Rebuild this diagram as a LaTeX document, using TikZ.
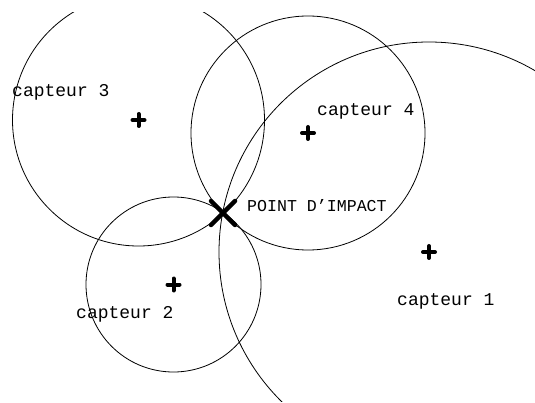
\documentclass[tikz,border=0pt]{standalone}
\usepackage{fontspec}
\setmainfont{Liberation Mono}
\begin{document}
\begin{tikzpicture}[x=1pt,y=-1pt,
  ring/.style={draw=black,line width=0.8pt},
  plusmark/.style={draw=black,line width=4pt,line cap=round},
  impactmark/.style={draw=black,line width=4.5pt,line cap=round},
  lbl/.style={anchor=base west,inner sep=0pt,font=\fontsize{18}{18}\selectfont},
  implbl/.style={anchor=base west,inner sep=0pt,font=\fontsize{16.6}{17}\selectfont}]
\useasboundingbox (0,0) rectangle (535,403);
\coordinate (s1) at (429,252);
\coordinate (s2) at (173.5,284.5);
\coordinate (s3) at (138.5,120);
\coordinate (s4) at (308,133);
\coordinate (imp) at (223,213);
\begin{scope}
\clip (0,13) rectangle (535,401);
\draw[ring] (s1) circle[radius=210];
\draw[ring] (s2) circle[radius=87.5];
\draw[ring] (s3) circle[radius=126];
\draw[ring] (s4) circle[radius=117];
\end{scope}
\foreach \s in {s1,s2,s3,s4}{
  \draw[plusmark] (\s) ++(-6,0) -- ++(12,0) (\s) ++(0,-6) -- ++(0,12);
}
\draw[impactmark] (imp) ++(-12,-12) -- ++(24,24) (imp) ++(-12,12) -- ++(24,-24);
\node[lbl] (l3) at (12,97) {capteur 3};
\node[lbl] (l4) at (317,116) {capteur 4};
\node[lbl] (l2) at (76,318) {capteur 2};
\node[lbl] (l1) at (397,305) {capteur 1};
\node[implbl] (li) at (247,212) {POINT D'IMPACT};
\end{tikzpicture}
\end{document}
